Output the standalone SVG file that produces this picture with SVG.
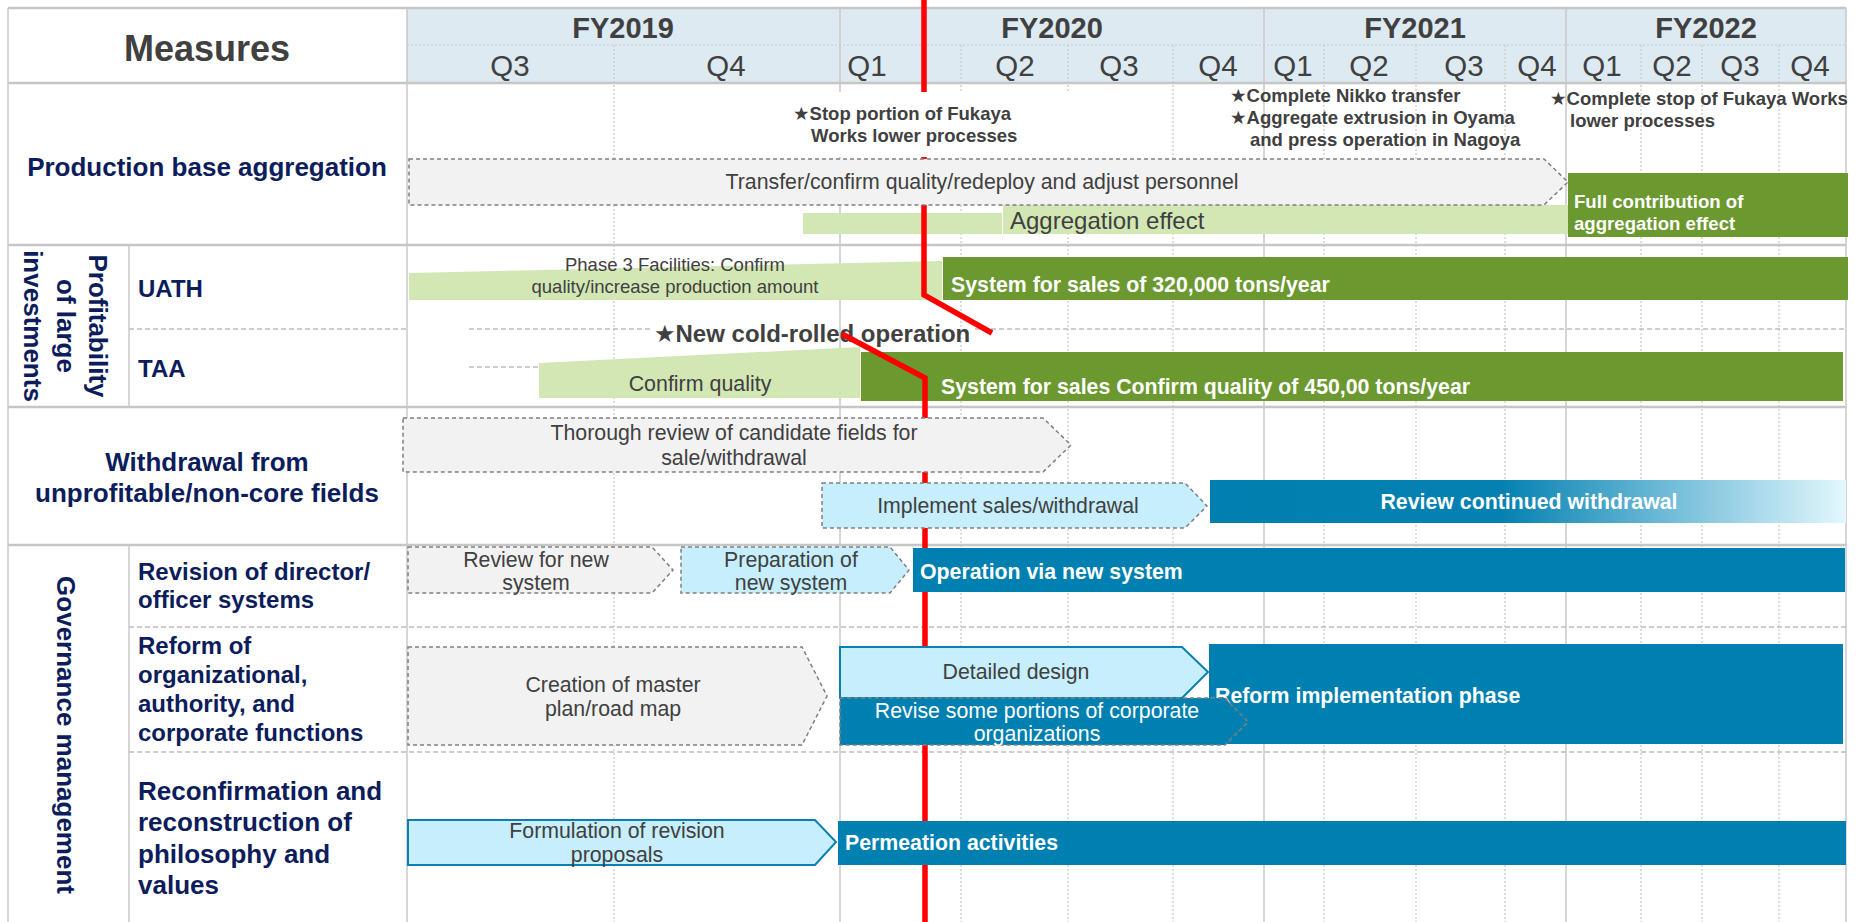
<svg xmlns="http://www.w3.org/2000/svg" width="1859" height="922" viewBox="0 0 1859 922">
  <defs>
    <style>
      text { font-family: "Liberation Sans", "DejaVu Sans", Arial, sans-serif; }
      .g-solid { stroke: #c9c9c9; stroke-width: 1.5; fill: none; }
      .g-dot { stroke: #c9c9c9; stroke-width: 1.2; stroke-dasharray: 2 2; fill: none; }
      .g-row { stroke: #c6c6c6; stroke-width: 2.5; fill: none; }
      .g-sub { stroke: #bdbdbd; stroke-width: 1.3; stroke-dasharray: 5 3; fill: none; }
      .hd-year { font-size: 29px; font-weight: bold; fill: #404040; text-anchor: middle; }
      .hd-q { font-size: 29.5px; fill: #404040; text-anchor: middle; }
      .cat { font-size: 26px; font-weight: bold; fill: #0d1d5c; }
      .sub { font-size: 24px; font-weight: bold; fill: #0d1d5c; }
      .note { font-size: 18.5px; font-weight: bold; fill: #404040; }
      .bar-t { font-size: 21.3px; fill: #404040; text-anchor: middle; }
      .bar-w { font-size: 21.3px; font-weight: bold; fill: #ffffff; }
      .box-gray { fill: #f2f2f2; stroke: #808080; stroke-width: 1.5; stroke-dasharray: 4 3; }
      .box-cyan-d { fill: #c6eefc; stroke: #808080; stroke-width: 1.5; stroke-dasharray: 4 3; }
      .box-cyan-s { fill: #c6eefc; stroke: #0a7fb0; stroke-width: 2; }
      .blue { fill: #0080b0; }
      .dgreen { fill: #6b982f; }
      .lgreen { fill: #d3e7b5; }
    </style>
    <linearGradient id="fadeBlue" x1="0" y1="0" x2="1" y2="0">
      <stop offset="0" stop-color="#0080b0"/>
      <stop offset="0.46" stop-color="#0581b1"/>
      <stop offset="0.75" stop-color="#7cc2dc"/>
      <stop offset="1" stop-color="#e3f7fd"/>
    </linearGradient>
  </defs>

  <rect x="0" y="0" width="1859" height="922" fill="#ffffff"/>

  <!-- header band -->
  <g id="header">
    <rect x="407" y="8" width="1439" height="75" fill="#deeaf2"/>
    <text x="207" y="61" font-size="36" font-weight="bold" fill="#404040" text-anchor="middle">Measures</text>
    <text class="hd-year" x="623" y="38">FY2019</text>
    <text class="hd-year" x="1052" y="38">FY2020</text>
    <text class="hd-year" x="1415" y="38">FY2021</text>
    <text class="hd-year" x="1706" y="38">FY2022</text>
    <text class="hd-q" x="510" y="76">Q3</text>
    <text class="hd-q" x="726" y="76">Q4</text>
    <text class="hd-q" x="867" y="76">Q1</text>
    <text class="hd-q" x="1015" y="76">Q2</text>
    <text class="hd-q" x="1119" y="76">Q3</text>
    <text class="hd-q" x="1218" y="76">Q4</text>
    <text class="hd-q" x="1293" y="76">Q1</text>
    <text class="hd-q" x="1369" y="76">Q2</text>
    <text class="hd-q" x="1464" y="76">Q3</text>
    <text class="hd-q" x="1537" y="76">Q4</text>
    <text class="hd-q" x="1602" y="76">Q1</text>
    <text class="hd-q" x="1672" y="76">Q2</text>
    <text class="hd-q" x="1740" y="76">Q3</text>
    <text class="hd-q" x="1810" y="76">Q4</text>
  </g>

  <!-- table grid -->
  <g id="grid">
    <line class="g-dot" x1="407" y1="45" x2="1846" y2="45"/>
    <path class="g-dot" d="M614 45V922 M961 45V922 M1068 45V922 M1173 45V922 M1324 45V922 M1416 45V922 M1505 45V922 M1641 45V922 M1702 45V922 M1779 45V922"/>
    <path class="g-solid" d="M8 8V922 M407 8V922 M840 8V922 M1264 8V922 M1566 8V922 M1846 8V922 M129 245V407 M129 545V922"/>
    <path class="g-row" d="M8 8H1846 M8 83H1846 M8 245H1846 M8 407H1846 M8 545H1846"/>
    <path class="g-sub" d="M129 329H409 M469 329H652 M975 329H1846 M469 367H539 M129 627H1846 M129 752H1846"/>
  </g>

  <!-- row labels -->
  <g id="labels">
    <text class="cat" x="207" y="176" text-anchor="middle">Production base aggregation</text>
    <g transform="translate(98,326) rotate(90)"><text class="cat" x="0" y="9" text-anchor="middle">Profitability</text></g>
    <g transform="translate(66,326) rotate(90)"><text class="cat" x="0" y="9" text-anchor="middle">of large</text></g>
    <g transform="translate(33,326) rotate(90)"><text class="cat" x="0" y="9" text-anchor="middle">investments</text></g>
    <text class="sub" x="138" y="297">UATH</text>
    <text class="sub" x="138" y="377">TAA</text>
    <text class="cat" x="207" y="471" text-anchor="middle">Withdrawal from</text>
    <text class="cat" x="207" y="502" text-anchor="middle">unprofitable/non-core fields</text>
    <g transform="translate(66,735) rotate(90)"><text class="cat" x="0" y="9" text-anchor="middle">Governance management</text></g>
    <text class="sub" x="138" y="580">Revision of director/</text>
    <text class="sub" x="138" y="608">officer systems</text>
    <text class="sub" x="138" y="654">Reform of</text>
    <text class="sub" x="138" y="683">organizational,</text>
    <text class="sub" x="138" y="712">authority, and</text>
    <text class="sub" x="138" y="741">corporate functions</text>
    <text class="cat" x="138" y="800">Reconfirmation and</text>
    <text class="cat" x="138" y="831">reconstruction of</text>
    <text class="cat" x="138" y="863">philosophy and</text>
    <text class="cat" x="138" y="894">values</text>
  </g>

  <!-- bars lying beneath the current-date line -->
  <g id="aggregation-effect">
    <rect class="lgreen" x="803" y="213" width="199" height="21"/>
    <rect class="lgreen" x="1003" y="205" width="565" height="29"/>
    <text x="1010" y="229" font-size="24" fill="#404040">Aggregation effect</text>
  </g>
  <g id="uath-phase3">
    <polygon class="lgreen" points="409,273 942,261 942,300 409,300"/>
    <text class="bar-t" x="675" y="271" style="font-size:18.5px">Phase 3 Facilities: Confirm</text>
    <text class="bar-t" x="675" y="293" style="font-size:18.5px">quality/increase production amount</text>
  </g>
  <g id="uath-sales">
    <rect class="dgreen" x="943" y="257" width="905" height="43"/>
    <text class="bar-w" x="951" y="292">System for sales of 320,000 tons/year</text>
  </g>
  <g id="taa-quality">
    <polygon class="lgreen" points="539,363 860,347 860,398 539,398"/>
    <text class="bar-t" x="700" y="391" style="font-size:21.4px">Confirm quality</text>
  </g>
  <g id="taa-sales">
    <rect class="dgreen" x="861" y="352" width="982" height="49"/>
    <text class="bar-w" x="941" y="394">System for sales Confirm quality of 450,00 tons/year</text>
  </g>
  <g id="taa-milestone">
    <text x="654" y="342" font-size="24" font-weight="bold" fill="#404040">★New cold-rolled operation</text>
  </g>

  <!-- current-date line -->
  <g id="connectors" fill="none" stroke="#ff0000" stroke-width="5.5" stroke-linejoin="miter">
    <path d="M924 0V295L992 333"/>
    <path d="M842 334L925 378V922"/>
  </g>

  <!-- production base aggregation -->
  <g id="fukaya-stop">
    <rect x="786" y="92" width="288" height="65" fill="#ffffff"/>
    <text class="note" x="793" y="120">★Stop portion of Fukaya</text>
    <text class="note" x="811" y="142">Works lower processes</text>
  </g>
  <g id="nikko-oyama">
    <text class="note" x="1230" y="102">★Complete Nikko transfer</text>
    <text class="note" x="1230" y="124">★Aggregate extrusion in Oyama</text>
    <text class="note" x="1250" y="146">and press operation in Nagoya</text>
  </g>
  <g id="fukaya-complete">
    <text class="note" x="1550" y="105">★Complete stop of Fukaya Works</text>
    <text class="note" x="1570" y="127">lower processes</text>
  </g>
  <g id="transfer">
    <polygon class="box-gray" points="409,159 1544,159 1568,182 1544,205 409,205"/>
    <text class="bar-t" x="982" y="189">Transfer/confirm quality/redeploy and adjust personnel</text>
  </g>
  <g id="full-contribution">
    <rect class="dgreen" x="1568" y="173" width="280" height="64"/>
    <text class="bar-w" x="1574" y="208" style="font-size:18.6px">Full contribution of</text>
    <text class="bar-w" x="1574" y="230" style="font-size:18.6px">aggregation effect</text>
  </g>

  <!-- withdrawal -->
  <g id="thorough-review">
    <polygon class="box-gray" points="403,418 1043,418 1071,445 1043,472 403,472"/>
    <text class="bar-t" x="734" y="440">Thorough review of candidate fields for</text>
    <text class="bar-t" x="734" y="465">sale/withdrawal</text>
  </g>
  <g id="implement-sales">
    <polygon class="box-cyan-d" points="822,483 1185,483 1207,506 1185,528 822,528"/>
    <text class="bar-t" x="1008" y="513">Implement sales/withdrawal</text>
  </g>
  <g id="continued-withdrawal">
    <rect x="1210" y="480" width="636" height="43" fill="url(#fadeBlue)"/>
    <text class="bar-w" x="1529" y="509" text-anchor="middle">Review continued withdrawal</text>
  </g>

  <!-- governance -->
  <g id="review-new-system">
    <polygon class="box-gray" points="408,547 652,547 673,570 652,593 408,593"/>
    <text class="bar-t" x="536" y="567">Review for new</text>
    <text class="bar-t" x="536" y="590">system</text>
  </g>
  <g id="prepare-new-system">
    <polygon class="box-cyan-d" points="681,547 890,547 909,570 890,593 681,593"/>
    <text class="bar-t" x="791" y="567">Preparation of</text>
    <text class="bar-t" x="791" y="590">new system</text>
  </g>
  <g id="operation-new-system">
    <rect class="blue" x="913" y="548" width="932" height="44"/>
    <text class="bar-w" x="920" y="579">Operation via new system</text>
  </g>
  <g id="master-plan">
    <polygon class="box-gray" points="408,647 802,647 827,696 802,745 408,745"/>
    <text class="bar-t" x="613" y="692">Creation of master</text>
    <text class="bar-t" x="613" y="716">plan/road map</text>
  </g>
  <g id="reform-phase">
    <rect class="blue" x="1209" y="644" width="634" height="100"/>
    <text class="bar-w" x="1215" y="703">Reform implementation phase</text>
  </g>
  <g id="detailed-design">
    <polygon class="box-cyan-s" points="840,647 1182,647 1208,672 1182,698 840,698"/>
    <text class="bar-t" x="1016" y="679">Detailed design</text>
  </g>
  <g id="revise-portions">
    <polygon fill="#0080b0" stroke="#808080" stroke-width="1.5" stroke-dasharray="4 3" points="840,698 1225,698 1248,722 1225,745 840,745"/>
    <text class="bar-t" x="1037" y="718" style="fill:#ffffff">Revise some portions of corporate</text>
    <text class="bar-t" x="1037" y="741" style="fill:#ffffff">organizations</text>
  </g>
  <g id="revision-proposals">
    <polygon class="box-cyan-s" points="408,820 815,820 836,842 815,865 408,865"/>
    <text class="bar-t" x="617" y="838">Formulation of revision</text>
    <text class="bar-t" x="617" y="862">proposals</text>
  </g>
  <g id="permeation">
    <rect class="blue" x="838" y="821" width="1008" height="44"/>
    <text class="bar-w" x="845" y="850">Permeation activities</text>
  </g>
</svg>
